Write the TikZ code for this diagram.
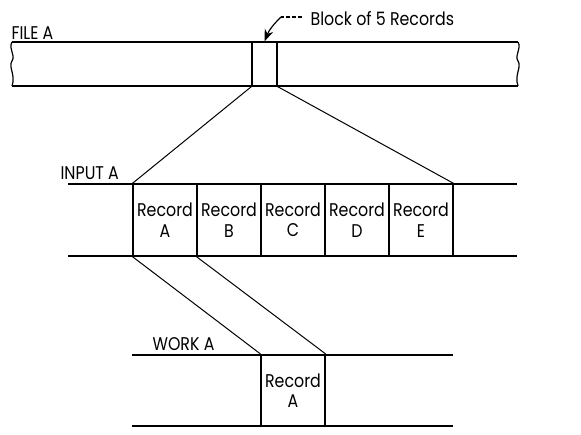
\documentclass[tikz,border=0pt]{standalone}
\usepackage{fontspec}
\setmainfont{Poppins}[FakeStretch=0.86]
\usepackage{tikz}
\usetikzlibrary{arrows.meta}

\begin{document}
\begin{tikzpicture}[
    x=0.5pt, y=-0.5pt,
    line width=0.6pt,
    every node/.style={font=\fontsize{9.2}{10.2}\selectfont},
    record/.style={
        rectangle,
        draw,
        minimum width=32pt,
        minimum height=36pt,
        inner sep=0pt,
        align=center
    },
    blockbox/.style={
        rectangle,
        draw,
        minimum width=12.5pt,
        minimum height=22pt,
        inner sep=0pt
    },
    bandlabel/.style={anchor=west, inner sep=0pt},
    link/.style={line width=0.5pt}
]
\useasboundingbox (0,0) rectangle (581,434);

% File A (tape with broken ends)
\node[bandlabel] (filelbl) at (11,33) {FILE A};
\coordinate (ftl) at (12,42);
\coordinate (fbl) at (12,86);
\coordinate (ftr) at (518,42);
\coordinate (fbr) at (518,86);
\draw (ftl) -- (ftr);
\draw (fbl) -- (fbr);
\draw (ftl) .. controls (8,49) and (16,55) .. (12,61)
            .. controls (8,67) and (16,75) .. (fbl);
\draw (ftr) .. controls (522,49) and (514,55) .. (518,61)
            .. controls (522,67) and (514,75) .. (fbr);
\node[blockbox] (blk) at (264.5,64) {};

% Block label with leader
\node[bandlabel] (blklbl) at (310,19) {Block of 5 Records};
\coordinate (leadend) at (302,17);
\coordinate (lead) at (281,17);
\draw[dash pattern=on 2pt off 1pt] (leadend) -- (lead);
\draw[-{Stealth[length=6pt,width=4.5pt]}] (lead) to[bend right=12] (blk.north);

% Input A
\node[bandlabel] (inlbl) at (60,173) {INPUT A};
\node[record] (recA) at (165,220) {Record\\A};
\node[record] (recB) at (229,220) {Record\\B};
\node[record] (recC) at (293,220) {Record\\C};
\node[record] (recD) at (357,220) {Record\\D};
\node[record] (recE) at (421,220) {Record\\E};
\coordinate (itl) at (68,184);
\coordinate (ibl) at (68,256);
\coordinate (itr) at (517,184);
\coordinate (ibr) at (517,256);
\draw (itl) -- (itr);
\draw (ibl) -- (ibr);

% Work A
\node[bandlabel] (wklbl) at (152,344) {WORK A};
\node[record] (wrecA) at (293,390.5) {Record\\A};
\coordinate (wtl) at (132,355);
\coordinate (wbl) at (132,426);
\coordinate (wtr) at (453,355);
\coordinate (wbr) at (453,426);
\draw (wtl) -- (wtr);
\draw (wbl) -- (wbr);

% Fan-out lines
\draw[link] (blk.south west) -- (recA.north west);
\draw[link] (blk.south east) -- (recE.north east);
\draw[link] (recA.south west) -- (wrecA.north west);
\draw[link] (recB.south west) -- (wrecA.north east);

\end{tikzpicture}
\end{document}
